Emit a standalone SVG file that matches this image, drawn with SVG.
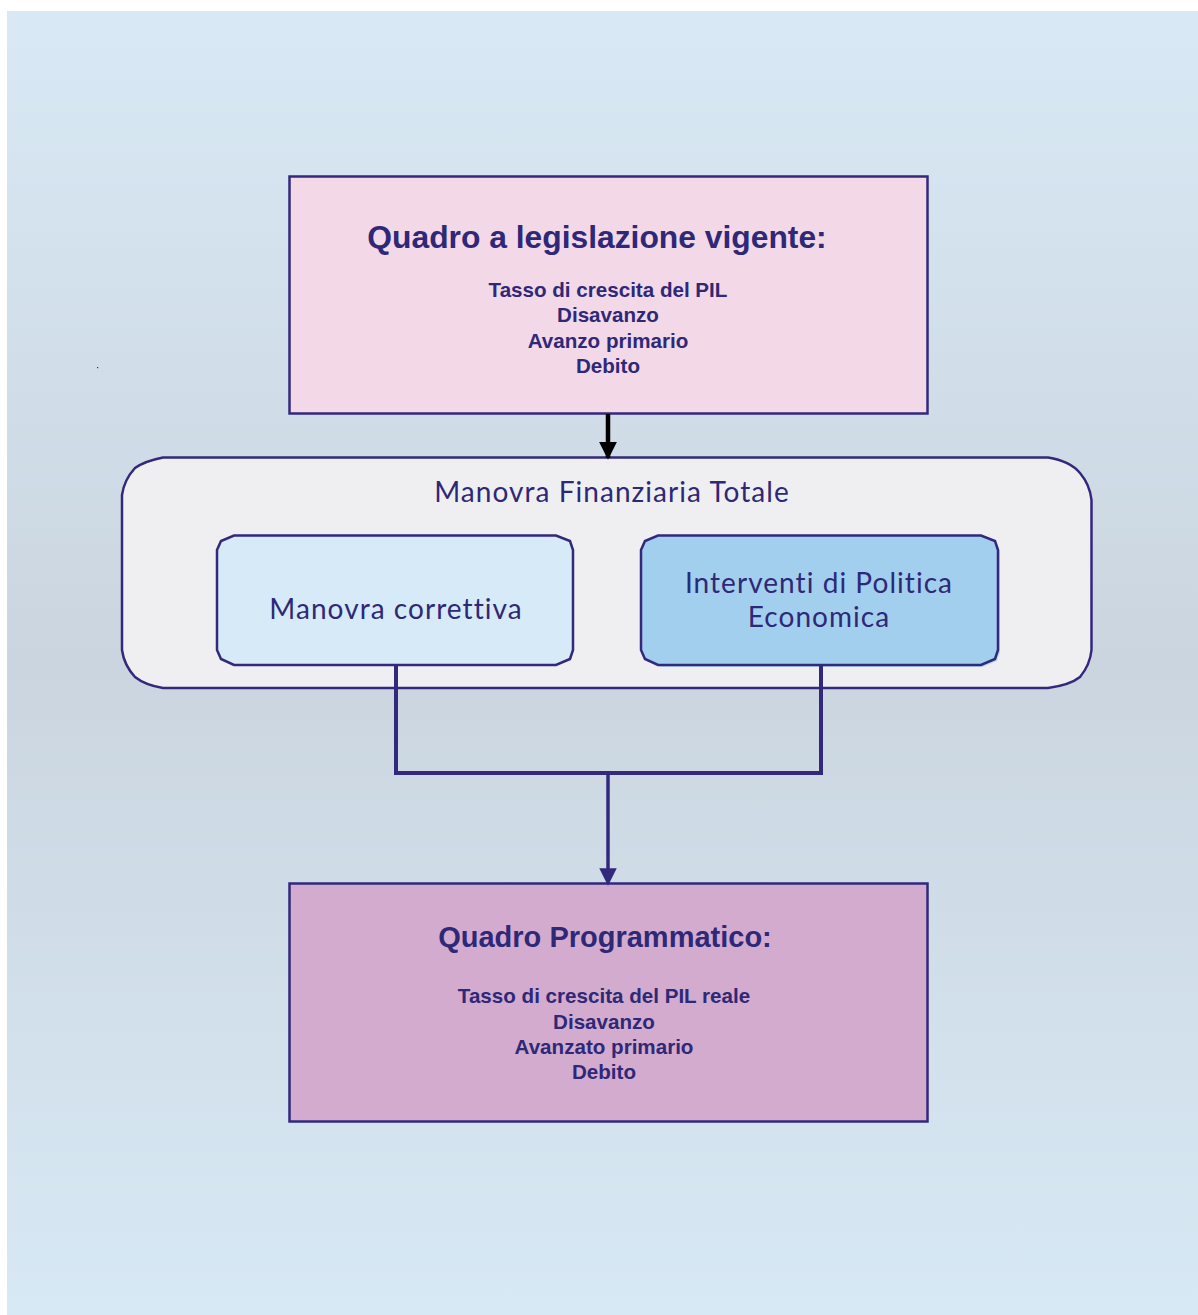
<svg xmlns="http://www.w3.org/2000/svg" width="1198" height="1315" viewBox="0 0 1198 1315">
  <defs>
    <linearGradient id="bg" x1="0" y1="0" x2="0" y2="1">
      <stop offset="0" stop-color="#d8e9f5"/>
      <stop offset="0.5" stop-color="#cbd5df"/>
      <stop offset="1" stop-color="#d7e9f5"/>
    </linearGradient>
    <marker id="arrowBlack" viewBox="0 0 10 10" refX="9" refY="5" markerWidth="4" markerHeight="4" orient="auto" markerUnits="strokeWidth">
      <path d="M0,0 L10,5 L0,10 z" fill="#000"/>
    </marker>
    <marker id="arrowNavy" viewBox="0 0 10 10" refX="9" refY="5" markerWidth="5" markerHeight="5" orient="auto" markerUnits="strokeWidth">
      <path d="M0,0 L10,5 L0,10 z" fill="#32297c"/>
    </marker>
  </defs>
  <style>
    .box { stroke: #32297c; stroke-width: 2.5; }
    .title { font-family: "Liberation Sans", Arial, sans-serif; font-weight: bold; fill: #2e2877; text-anchor: middle; }
    .item { font-family: "Liberation Sans", Arial, sans-serif; font-weight: bold; font-size: 20.6px; fill: #2e2877; text-anchor: middle; }
    .label { font-family: Lato, "Open Sans", sans-serif; font-size: 28px; letter-spacing: 1.05px; fill: #2e2877; text-anchor: middle; }
    .link { fill: none; stroke: #32297c; stroke-width: 4; }
  </style>

  <!-- page background -->
  <rect x="7" y="11" width="1191" height="1304" fill="url(#bg)"/>
  <rect x="97" y="367" width="1.2" height="1.2" fill="#32297c"/>

  <!-- current-legislation frame -->
  <g id="quadro-vigente">
    <rect class="box" x="289.5" y="176.5" width="638" height="237" fill="#f3d8e8"/>
    <text class="title" x="597" y="248" font-size="31.8">Quadro a legislazione vigente:</text>
    <text class="item" x="608" y="297">Tasso di crescita del PIL</text>
    <text class="item" x="608" y="322">Disavanzo</text>
    <text class="item" x="608" y="348">Avanzo primario</text>
    <text class="item" x="608" y="373">Debito</text>
  </g>

  <!-- total financial manoeuvre container -->
  <g id="manovra-totale">
    <path class="box" fill="#efeff2" d="M163,457.5 L1048,457.5 Q1070,461 1080,473 Q1090,485 1091.5,500 L1091.5,650 Q1090,665 1080,677 Q1070,685 1048,688 L163,688 Q145,685 135,677 Q124,665 122,650 L122,495 Q124,480 135,468 Q145,461 163,457.5 Z"/>
    <text class="label" x="612" y="502" letter-spacing="1.45">Manovra Finanziaria Totale</text>
  </g>

  <g id="manovra-correttiva">
    <path class="box" fill="#d6ebf7" d="M234,535.5 L556,535.5 L570,541 L573,550 L573,650 L570,659 L556,665 L234,665 L221,659 L217,650 L217,550 L221,541 Z"/>
    <text class="label" x="396" y="619">Manovra correttiva</text>
  </g>

  <g id="interventi-politica">
    <path d="M660,537 L983,537 L997,543 L1000,552 L1000,652 L997,661 L983,667 L660,667 Z" fill="#b8dcf4"/>
    <path class="box" fill="#a3cfee" d="M658,535.5 L981,535.5 L995,541 L998,550 L998,650 L995,659 L981,665 L658,665 L645,659 L641,650 L641,550 L645,541 Z"/>
    <text class="label" x="819" y="593">Interventi di Politica</text>
    <text class="label" x="819" y="627">Economica</text>
  </g>

  <!-- programme frame -->
  <g id="quadro-programmatico">
    <rect class="box" x="289.5" y="883.5" width="638" height="238" fill="#d3abce"/>
    <text class="title" x="605" y="947" font-size="29">Quadro Programmatico:</text>
    <text class="item" x="604" y="1003">Tasso di crescita del PIL reale</text>
    <text class="item" x="604" y="1029">Disavanzo</text>
    <text class="item" x="604" y="1054">Avanzato primario</text>
    <text class="item" x="604" y="1079">Debito</text>
  </g>

  <!-- connectors -->
  <g id="connectors">
    <line x1="608" y1="414" x2="608" y2="458" stroke="#000" stroke-width="4.5" marker-end="url(#arrowBlack)"/>
    <path class="link" d="M396,665 L396,773 L821,773 L821,665"/>
    <line x1="608" y1="773" x2="608" y2="884" stroke="#32297c" stroke-width="3.5" marker-end="url(#arrowNavy)"/>
  </g>
</svg>
